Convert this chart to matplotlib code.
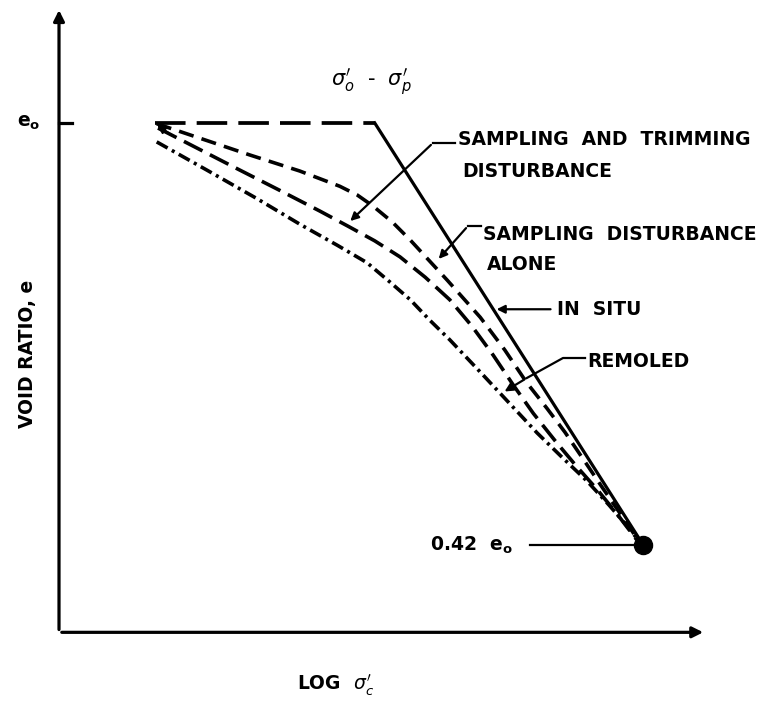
import numpy as np
import matplotlib
matplotlib.use("Agg")
import matplotlib.pyplot as plt

# ---------------------------------------------------------
# DATA  (x = log of effective stress, arbitrary units; e = void ratio / e0)
# ---------------------------------------------------------

# in situ curve: flat at e0 up to the preconsolidation pressure, then straight
insitu_x = [1.48, 4.88, 9.03]
insitu_e = [1.00, 1.00, 0.42]

# sampling disturbance alone (upper dashed)
alone_x = [1.51, 2.18, 2.95, 3.72, 4.34, 4.61, 4.85, 5.15, 5.43, 6.00,
           6.51, 6.89, 7.23, 7.54, 7.82, 8.11, 8.39, 8.66, 8.95]
alone_e = [0.999, 0.979, 0.956, 0.934, 0.913, 0.901, 0.886, 0.864, 0.839, 0.784,
           0.733, 0.688, 0.643, 0.608, 0.575, 0.537, 0.500, 0.465, 0.427]

# sampling and trimming disturbance (middle dashed)
trim_x = [1.53, 2.10, 2.80, 3.42, 4.03, 4.47, 4.88, 5.27, 5.66, 6.04,
          6.38, 6.71, 7.02, 7.33, 7.67, 7.99, 8.32, 8.64, 8.93]
trim_e = [0.993, 0.967, 0.935, 0.907, 0.879, 0.858, 0.838, 0.816, 0.788, 0.757,
          0.721, 0.681, 0.640, 0.601, 0.563, 0.529, 0.496, 0.461, 0.427]

# remolded (dash-dot)
remold_x = [1.51, 2.29, 3.06, 3.72, 4.30, 4.76, 5.12, 5.43, 5.73, 6.04,
            6.55, 6.97, 7.39, 7.77, 8.16, 8.50, 8.79, 8.96]
remold_e = [0.974, 0.935, 0.896, 0.861, 0.832, 0.808, 0.781, 0.757, 0.729, 0.702,
            0.654, 0.614, 0.574, 0.541, 0.508, 0.475, 0.445, 0.426]

E_END = 0.42
E_AXIS = 0.30
X_AXIS_END = 10.0
E_AXIS_END = 1.159

# ---------------------------------------------------------
# PLOT
# ---------------------------------------------------------

plt.rcParams["lines.scale_dashes"] = False
plt.rcParams["mathtext.fontset"] = "dejavusans"

fig = plt.figure(figsize=(7.7, 7.04), dpi=100)
ax = fig.add_axes([0, 0, 1, 1])
ax.set_xlim(-0.912, 10.989)
ax.set_ylim(0.2015, 1.169)
ax.axis("off")

lw = 2.3
txt = dict(fontsize=13.5, fontweight="bold", color="black", va="center", ha="left")

# axes with arrows
ax.annotate("", xy=(X_AXIS_END, E_AXIS), xytext=(0, E_AXIS),
            arrowprops=dict(arrowstyle="-|>", lw=lw, color="black", mutation_scale=16))
ax.annotate("", xy=(0, E_AXIS_END), xytext=(0, E_AXIS),
            arrowprops=dict(arrowstyle="-|>", lw=lw, color="black", mutation_scale=16))
ax.plot([0, 0.2], [1.0, 1.0], color="black", lw=lw)

# curves
ax.plot(insitu_x[:2], insitu_e[:2], color="black", lw=lw + 0.4, dashes=(22, 8))
ax.plot(insitu_x[1:], insitu_e[1:], color="black", lw=lw)
ax.plot(alone_x, alone_e, color="black", lw=lw + 0.3, dashes=(11, 6))
ax.plot(trim_x, trim_e, color="black", lw=lw + 0.3, dashes=(15, 6))
ax.plot(remold_x, remold_e, color="black", lw=lw + 0.3, dashes=(9, 3.5, 2.2, 3.5))
ax.plot(insitu_x[-1], E_END, "o", color="black", ms=13)

# small arrow head at the start of the disturbed curves
ax.annotate("", xy=(trim_x[0] - 0.05, trim_e[0] + 0.006), xytext=(trim_x[0] + 0.25, trim_e[0] - 0.012),
            arrowprops=dict(arrowstyle="-|>", lw=1.5, color="black", mutation_scale=12))

# ---------------------------------------------------------
# LABELS AND LEADERS
# ---------------------------------------------------------

head = dict(arrowstyle="-|>", lw=1.6, color="black", mutation_scale=12)

# sampling and trimming disturbance
ax.plot([6.12, 5.78], [0.9725, 0.9725], color="black", lw=1.6)
ax.annotate("", xy=(4.47, 0.8626), xytext=(5.78, 0.9725), arrowprops=head)
ax.text(6.17, 0.9766, "SAMPLING  AND  TRIMMING", **txt)
ax.text(6.23, 0.9327, "DISTURBANCE", **txt)

# sampling disturbance alone
ax.plot([6.52, 6.32], [0.8584, 0.8584], color="black", lw=1.6)
ax.annotate("", xy=(5.84, 0.8103), xytext=(6.32, 0.8584), arrowprops=head)
ax.text(6.55, 0.8461, "SAMPLING  DISTURBANCE", **txt)
ax.text(6.61, 0.8049, "ALONE", **txt)

# in situ
ax.annotate("", xy=(6.72, 0.744), xytext=(7.64, 0.744), arrowprops=head)
ax.text(7.70, 0.744, "IN  SITU", **txt)

# remolded
ax.plot([8.13, 7.79, 7.23], [0.677, 0.677, 0.6495], color="black", lw=1.6)
ax.annotate("", xy=(6.85, 0.629), xytext=(7.23, 0.6495), arrowprops=head)
ax.text(8.17, 0.672, "REMOLED", **txt)

# end point
ax.plot([7.28, 8.90], [E_END, E_END], color="black", lw=1.6)
ax.text(5.73, E_END, r"0.42  e$_\mathbf{o}$", **txt)

# preconsolidation label
ax.text(4.82, 1.056, r"$\sigma_o'$  -  $\sigma_p'$", fontsize=15, ha="center", va="center")

# axis labels
ax.text(-0.65, 1.0, r"e$_\mathbf{o}$", **txt)
ax.text(-0.48, 0.682, "VOID RATIO, e", fontsize=13.5, fontweight="bold", rotation=90,
        ha="center", va="center")
ax.text(3.68, 0.2275, r"LOG  $\sigma_c'$", **txt)

plt.savefig("out.png", dpi=100)
